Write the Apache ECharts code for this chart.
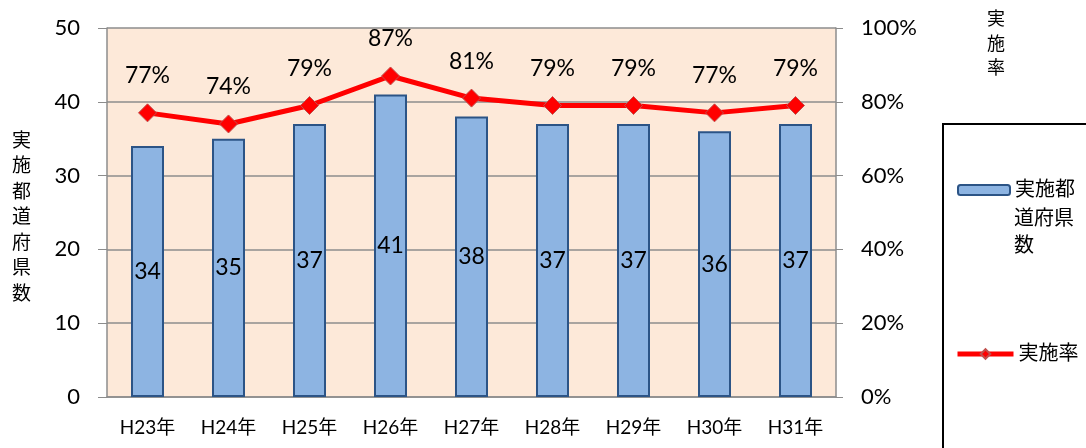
<!DOCTYPE html>
<html>
<head>
<meta charset="utf-8">
<script src="https://cdn.jsdelivr.net/npm/echarts@6/dist/echarts.min.js"></script>
<style>
  html, body { margin: 0; padding: 0; background: #fff; }
  #chart { width: 1086px; height: 448px; }
</style>
</head>
<body>
<div id="chart"></div>
<script>
// 年度
const years = ['H23年', 'H24年', 'H25年', 'H26年', 'H27年', 'H28年', 'H29年', 'H30年', 'H31年'];
// 実施都道府県数
const prefCounts = [34, 35, 37, 41, 38, 37, 37, 36, 37];
// 実施率 (%)
const rates = [77, 74, 79, 87, 81, 79, 79, 77, 79];

const FONT = 'Lato, "Noto Sans CJK JP", sans-serif';
const gridColor = '#8c8c8c';

const chart = echarts.init(document.getElementById('chart'));

chart.setOption({
  backgroundColor: '#fff',
  textStyle: { fontFamily: FONT },
  animation: false,
  grid: {
    left: 107, right: 250, top: 28, bottom: 51,
    show: true,
    backgroundColor: '#FDE9D9',
    borderWidth: 0
  },
  legend: [
    {
      orient: 'vertical',
      left: 957,
      top: 180,
      padding: 0,
      itemWidth: 52,
      itemHeight: 10,
      data: ['実施都道府県数'],
      formatter: () => '実施都',
      textStyle: { fontSize: 20, color: '#000', fontFamily: FONT }
    },
    {
      orient: 'vertical',
      left: 955,
      top: 344,
      padding: 0,
      itemWidth: 56,
      itemHeight: 12,
      data: ['実施率'],
      lineStyle: { width: 5 },
      textStyle: { fontSize: 20, color: '#000', fontFamily: FONT }
    }
  ],
  xAxis: {
    type: 'category',
    data: years,
    axisLine: { lineStyle: { color: gridColor, width: 1.5 } },
    axisTick: { show: false },
    axisLabel: { color: '#000', fontSize: 19, margin: 21, fontFamily: FONT }
  },
  yAxis: [
    {
      type: 'value',
      min: 0, max: 50, interval: 10,
      axisLine: { show: true, lineStyle: { color: gridColor, width: 1.5 } },
      axisTick: { show: true, inside: false, length: 9, lineStyle: { color: gridColor } },
      axisLabel: { color: '#000', fontSize: 22, margin: 27, fontFamily: FONT },
      splitLine: { lineStyle: { color: gridColor, width: 1.5 } }
    },
    {
      type: 'value',
      min: 0, max: 100, interval: 20,
      position: 'right',
      axisLine: { show: true, lineStyle: { color: gridColor, width: 1.5 } },
      axisTick: { show: true, length: 7, lineStyle: { color: gridColor } },
      axisLabel: { color: '#000', fontSize: 22, margin: 25, formatter: '{value}%', fontFamily: FONT },
      splitLine: { show: false }
    }
  ],
  series: [
    {
      name: '実施都道府県数',
      type: 'bar',
      data: prefCounts,
      barWidth: 33,
      itemStyle: { color: '#8DB4E2', borderColor: '#2C5486', borderWidth: 2 },
      label: { show: true, position: 'inside', color: '#000', fontSize: 23, fontFamily: FONT }
    },
    {
      name: '実施率',
      type: 'line',
      yAxisIndex: 1,
      data: rates,
      symbol: 'diamond',
      symbolSize: 18,
      lineStyle: { color: '#FF0000', width: 5 },
      itemStyle: { color: '#FF0000', borderColor: '#C0504D', borderWidth: 1 },
      label: {
        show: true, position: 'top', distance: 16,
        color: '#000', fontSize: 23, fontFamily: FONT,
        formatter: p => p.value + '%'
      },
      z: 5
    }
  ],
  graphic: [
    {
      type: 'rect',
      shape: { x: 943, y: 124, width: 200, height: 400 },
      style: { fill: 'none', stroke: '#000', lineWidth: 2 },
      silent: true
    },
    {
      type: 'text',
      left: 1014, top: 205,
      style: { text: '道府県\n数', fontSize: 20, lineHeight: 27, fill: '#000', fontFamily: FONT }
    },
    {
      type: 'text',
      left: 12, top: 128,
      style: { text: '実\n施\n都\n道\n府\n県\n数', fontSize: 19, lineHeight: 25.5, fill: '#000', fontFamily: FONT }
    },
    {
      type: 'text',
      left: 987, top: 7,
      style: { text: '実\n施\n率', fontSize: 18, lineHeight: 24.5, fill: '#000', fontFamily: FONT }
    }
  ]
});
</script>
</body>
</html>
